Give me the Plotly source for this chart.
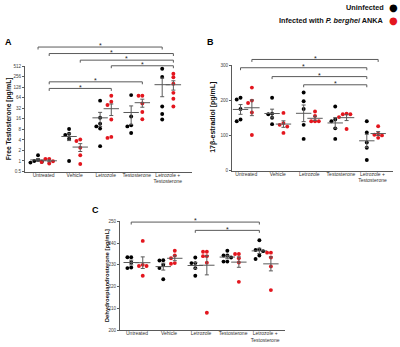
import numpy as np
import plotly.graph_objects as go

# ---------------- data ----------------
groups = ["Untreated", "Vehicle", "Letrozole", "Testosterone", "Letrozole +<br>Testosterone"]
series_names = ["Uninfected", "Infected with <i>P. berghei</i> ANKA"]

testo_uninf = [[0.9, 1.07, 1.45, 1.0, 0.95], [8.2, 6.0, 5.5, 4.3, 1.0],
               [52.7, 17.1, 11.6, 9.7, 8.4, 2.65], [76, 18.6, 10.4, 9.7, 6.3],
               [430, 250, 36, 22, 15.3]]
testo_inf = [[1.15, 1.15, 0.98, 0.85, 0.93], [4.1, 3.7, 2.4, 1.45, 0.82],
             [73, 49, 39.6, 15.3, 4.55, 4.86], [73, 73, 44, 25, 15.5],
             [310, 245, 160, 88, 60, 36]]

e2_uninf = [[207, 202, 175, 145, 140], [207, 162, 160, 150, 132], [222, 197, 175, 130, 90],
            [182, 145, 140, 120, 90], [140, 108, 80, 65, 30]]
e2_inf = [[236, 199, 192, 165, 101], [164, 135, 130, 125, 107], [168, 155, 140, 140, 140],
          [162, 160, 160, 152, 118], [126, 105, 102, 100, 93]]

dhea_uninf = [[233.5, 233.5, 231.1, 228.5, 228.8], [232, 232.1, 230, 228.5, 223.4],
              [233.4, 230.8, 230.8, 228.5, 225], [236.5, 234.3, 234.3, 233.4, 231.5, 231.5],
              [241.3, 236.8, 237.1, 236.3, 234.3, 232.7]]
dhea_inf = [[241, 229.5, 229.5, 230, 225], [236.5, 234.3, 233, 230.5, 230.8],
            [236, 236, 234, 234, 231, 208], [235, 235, 233, 231.1, 222.2],
            [235.6, 235.6, 233.4, 229.3, 218.4]]

testo_ticks = [0.5, 1, 2, 4, 8, 16, 32, 64, 128, 256, 512]
e2_ticks = [0, 100, 200, 300]
dhea_ticks = [200, 210, 220, 230, 240, 250]

# significance comparisons: (group a, series a, group b, series b)
testo_sig = [(0, 0, 4, 0), (0, 1, 4, 1), (1, 1, 4, 1), (2, 1, 4, 1), (0, 1, 3, 1), (0, 1, 2, 1)]
e2_sig = [(0, 1, 4, 1), (0, 0, 4, 0), (1, 0, 4, 0), (2, 0, 4, 0)]
dhea_sig = [(0, 0, 4, 0), (2, 0, 4, 0)]

# ---------------- layout constants ----------------
W, H = 400, 347
colors = ["#000000", "#e3161e"]
GRAY = "#5a5a5a"
FONT = "Liberation Sans"
SOFF = [-0.18, 0.18]


def px(p):
    return p / W


def py(p):
    return 1 - p / H


panels = [
    dict(name="A", data=(testo_uninf, testo_inf), ticks=testo_ticks, log=True,
         xpx=(25, 192), ypx=(65, 172), xr=(-0.6, 4.78), yr=(0.5, 512),
         title="Free Testosterone [pg/mL]", title_x=8.5, title_size=6.6, letter=(3, 41),
         sig=testo_sig, sig_levels=[45.7, 52.3, 59, 64.7, 81, 87.7]),
    dict(name="B", data=(e2_uninf, e2_inf), ticks=e2_ticks, log=False,
         xpx=(232, 393), ypx=(64, 171), xr=(-0.45, 4.65), yr=(0, 300),
         title="17β-estradiol [pg/mL]", title_x=213, title_size=7, letter=(205, 41),
         sig=e2_sig, sig_levels=[58.3, 66.7, 75.7, 84]),
    dict(name="C", data=(dhea_uninf, dhea_inf), ticks=dhea_ticks, log=False,
         xpx=(120, 285), ypx=(222.5, 333), xr=(-0.53, 4.62), yr=(200, 250),
         title="Dehydroepiandrosterone [pg/mL]", title_x=106.5, title_size=5.9, letter=(90, 211),
         sig=dhea_sig, sig_levels=[223.3, 231.7]),
]


def swarm(vals, to_px, xunit_px, d=3.8):
    placed = []
    offs = [0.0] * len(vals)
    order = np.argsort(-np.array(vals))
    for i in order:
        y = to_px(vals[i])
        x = 0.0
        for k in [0, -1, 1, -2, 2, -3, 3]:
            x = k * d
            if all((x - a) ** 2 + (y - b) ** 2 >= (d * 0.95) ** 2 for a, b in placed):
                break
        placed.append((x, y))
        offs[i] = x / xunit_px
    return offs


fig = go.Figure()
shapes = []
annotations = []
layout_axes = {}

for pi, p in enumerate(panels):
    n = pi + 1
    xa = "x" if n == 1 else f"x{n}"
    ya = "y" if n == 1 else f"y{n}"
    x0p, x1p = p["xpx"]
    ytp, ybp = p["ypx"]
    xunit = (x1p - x0p) / (p["xr"][1] - p["xr"][0])
    if p["log"]:
        lo, hi = np.log10(p["yr"][0]), np.log10(p["yr"][1])
        to_px = lambda v, lo=lo, hi=hi: ybp - (np.log10(v) - lo) / (hi - lo) * (ybp - ytp)
        yrange = [lo, hi]
    else:
        lo, hi = p["yr"]
        to_px = lambda v, lo=lo, hi=hi: ybp - (v - lo) / (hi - lo) * (ybp - ytp)
        yrange = [lo, hi]

    for s in range(2):
        sdata = p["data"][s]
        xs, ys, mx, my, se = [], [], [], [], []
        for g, vals in enumerate(sdata):
            offs = swarm(vals, to_px, xunit)
            xs += [g + SOFF[s] + o for o in offs]
            ys += list(vals)
            arr = np.array(vals, dtype=float)
            mx.append(g + SOFF[s])
            my.append(arr.mean())
            se.append(arr.std(ddof=1) / np.sqrt(len(arr)))
        fig.add_trace(go.Scatter(
            x=xs, y=ys, mode="markers", xaxis=xa, yaxis=ya, showlegend=False,
            marker=dict(color=colors[s], size=3.9, line=dict(width=0)), cliponaxis=False))
        fig.add_trace(go.Scatter(
            x=mx, y=my, mode="markers", xaxis=xa, yaxis=ya, showlegend=False,
            marker=dict(symbol="line-ew", size=11, color=GRAY, line=dict(width=1, color=GRAY)),
            error_y=dict(type="data", array=se, color=GRAY, thickness=1, width=2), cliponaxis=False))

    ticktext = [("%g" % t) for t in p["ticks"]]
    layout_axes["xaxis" if n == 1 else f"xaxis{n}"] = dict(
        domain=[px(x0p), px(x1p)], anchor=ya, range=list(p["xr"]),
        tickvals=list(range(len(groups))), ticktext=groups, ticks="",
        ticklabelstandoff=-2,
        showline=True, linecolor=GRAY, linewidth=1, showgrid=False, zeroline=False,
        tickfont=dict(size=5, color="#333", family=FONT), fixedrange=True)
    layout_axes["yaxis" if n == 1 else f"yaxis{n}"] = dict(
        domain=[py(ybp), py(ytp)], anchor=xa, range=yrange,
        type="log" if p["log"] else "linear",
        tickvals=p["ticks"], ticktext=ticktext, ticks="outside", ticklen=2,
        tickwidth=1, tickcolor=GRAY, showline=True, linecolor=GRAY, linewidth=1,
        showgrid=False, zeroline=False, tickfont=dict(size=4.6, color="#444", family=FONT))

    # significance brackets
    for (ga, sa, gb, sb), lev in zip(p["sig"], p["sig_levels"]):
        xa0 = ga + SOFF[sa]
        xb0 = gb + SOFF[sb]
        yl = py(lev)
        yt = py(lev + 2.5)
        shapes.append(dict(type="path", xref=xa, yref="paper",
                           path=f"M {xa0},{yt} L {xa0},{yl} L {xb0},{yl} L {xb0},{yt}",
                           line=dict(color=GRAY, width=1)))
        annotations.append(dict(x=(xa0 + xb0) / 2, y=py(lev - 1.2), xref=xa, yref="paper",
                                text="*", showarrow=False, yanchor="middle",
                                font=dict(size=7, color="#222", family=FONT)))

    # axis title
    annotations.append(dict(x=px(p["title_x"]), y=py((ytp + ybp) / 2), xref="paper", yref="paper",
                            text="<b>" + p["title"] + "</b>", textangle=-90, showarrow=False,
                            xanchor="center", yanchor="middle",
                            font=dict(size=p["title_size"], color="#111", family=FONT)))
    # panel letter
    lx, ly = p["letter"]
    annotations.append(dict(x=px(lx), y=py(ly), xref="paper", yref="paper",
                            text="<b>" + p["name"] + "</b>", showarrow=False,
                            xanchor="left", yanchor="middle",
                            font=dict(size=9, color="#000", family=FONT)))

# legend
for s, ypos in enumerate([6, 19]):
    annotations.append(dict(x=px(386), y=py(ypos), xref="paper", yref="paper",
                            text="<b>" + series_names[s] + "</b>", showarrow=False,
                            xanchor="right", yanchor="middle",
                            font=dict(size=7.3, color="#111", family=FONT)))
    annotations.append(dict(x=px(393), y=py(ypos), xref="paper", yref="paper",
                            text="●", showarrow=False, xanchor="center", yanchor="middle",
                            font=dict(size=10, color=colors[s], family="DejaVu Sans")))

fig.update_layout(width=W, height=H, margin=dict(l=0, r=0, t=0, b=0),
                  paper_bgcolor="white", plot_bgcolor="white",
                  shapes=shapes, annotations=annotations, showlegend=False,
                  font=dict(family=FONT), **layout_axes)

fig.write_html("out.html", config={"displayModeBar": False, "staticPlot": True},
               post_script="document.body.style.margin='0px';")
